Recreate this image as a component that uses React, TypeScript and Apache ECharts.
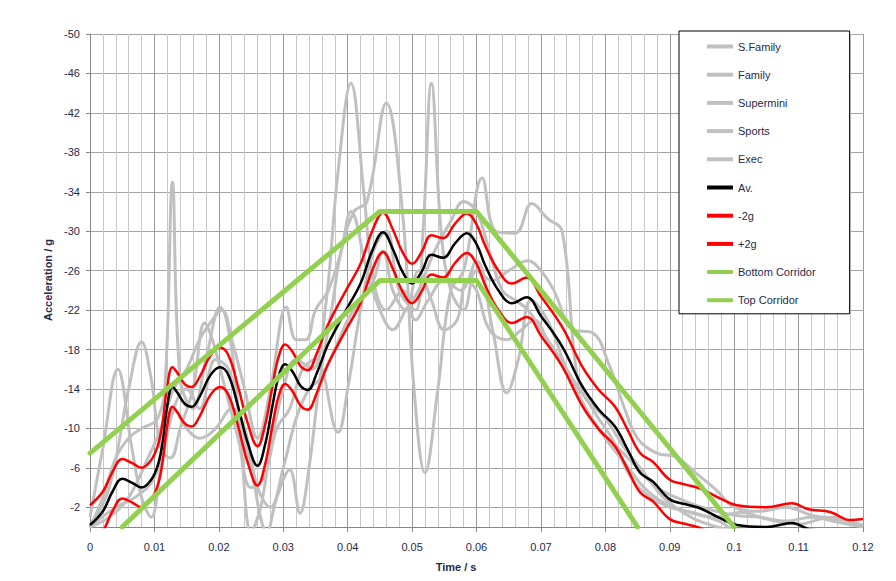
import React, { useEffect, useRef } from "react";
import * as echarts from "echarts";

// ---- data (time in s, acceleration in g) ----
const seriesNames = ["S.Family", "Family", "Supermini", "Sports", "Exec", "Av.", "-2g", "+2g", "Bottom Corridor", "Top Corridor"];

const yTickValues = [-50, -46, -42, -38, -34, -30, -26, -22, -18, -14, -10, -6, -2];

const sFamily: number[][] = [
  [0, 0], [0.002, -3], [0.004, -7], [0.006, -9], [0.008, -10], [0.0105, -11], [0.0117, -15], [0.0128, -35],
  [0.014, -15], [0.016, -12], [0.018, -17], [0.0202, -22.3], [0.022, -18], [0.0235, -8], [0.025, 0.5],
  [0.0265, -2], [0.028, -8], [0.03, -14], [0.032, -17], [0.0345, -16], [0.0365, -22], [0.0385, -36],
  [0.0405, -45], [0.0425, -34], [0.044, -25], [0.046, -22], [0.0485, -24], [0.0505, -21], [0.0525, -23],
  [0.055, -25], [0.0575, -24], [0.06, -27], [0.0625, -20], [0.0647, -13.6], [0.0665, -17], [0.0685, -23],
  [0.071, -21], [0.074, -16], [0.077, -12], [0.08, -9], [0.083, -6.5], [0.086, -4], [0.089, -2.5],
  [0.093, -1.5], [0.097, -1], [0.101, -1.5], [0.105, -0.8], [0.11, -0.3], [0.115, -1], [0.12, 0],
];

const family: number[][] = [
  [0, -1], [0.002, -8], [0.0043, -16], [0.0065, -8], [0.008, -3], [0.0095, -1], [0.011, -6], [0.013, -12],
  [0.015, -14], [0.017, -12], [0.0195, -17], [0.0215, -16], [0.023, -12], [0.025, -6], [0.0275, 0.5],
  [0.029, -3], [0.031, -5.8], [0.0326, -1.4], [0.034, -6], [0.0357, -15], [0.0375, -22], [0.039, -28],
  [0.041, -32], [0.043, -33], [0.046, -43], [0.0485, -32], [0.0503, -14], [0.052, -5.5], [0.054, -14],
  [0.056, -24], [0.058, -26], [0.0609, -35.4], [0.063, -30], [0.066, -29.8], [0.0686, -32.8], [0.071, -31.3],
  [0.0733, -30], [0.0757, -15], [0.078, -12], [0.081, -9], [0.084, -5], [0.087, -3], [0.09, -2],
  [0.094, -1.4], [0.098, -0.5], [0.1, 0.3], [0.12, 0.5],
];

const supermini: number[][] = [
  [0, 0], [0.003, -4], [0.006, -14], [0.008, -18.8], [0.0095, -15], [0.011, -8], [0.0125, -7], [0.014, -10],
  [0.016, -14], [0.0178, -20.7], [0.019, -19], [0.021, -14], [0.023, -9], [0.025, -4], [0.027, -5],
  [0.029, -10], [0.031, -12], [0.033, -16], [0.035, -17], [0.0385, -9.6], [0.04, -14], [0.042, -22],
  [0.044, -28], [0.046, -30], [0.048, -24], [0.0505, -22], [0.0517, -30], [0.053, -45], [0.0545, -30],
  [0.056, -24], [0.058, -22], [0.06, -26], [0.0625, -25], [0.065, -26], [0.068, -27], [0.07, -26],
  [0.072, -24], [0.075, -20], [0.078, -19.7], [0.0805, -16.6], [0.083, -12], [0.085, -9], [0.088, -7.5],
  [0.091, -7.1], [0.094, -5.5], [0.0973, -3.7], [0.1, -2], [0.104, -1.6], [0.108, -2], [0.112, -1.2],
  [0.116, -0.8], [0.12, -0.2],
];

const sports: number[][] = [
  [0, 0], [0.003, -1], [0.006, -3], [0.009, -7], [0.011, -10], [0.013, -14], [0.015, -16], [0.017, -19],
  [0.019, -21], [0.0205, -22], [0.022, -19], [0.024, -14], [0.026, -9], [0.028, -14], [0.0305, -22.3],
  [0.032, -19], [0.0335, -19], [0.035, -22], [0.037, -24], [0.039, -28], [0.0405, -32], [0.043, -26],
  [0.045, -22], [0.047, -20], [0.049, -22], [0.051, -24], [0.0535, -28], [0.056, -31], [0.058, -33],
  [0.06, -32], [0.062, -28], [0.064, -24], [0.066, -23], [0.068, -22], [0.07, -20], [0.073, -17],
  [0.076, -13], [0.079, -10], [0.082, -8], [0.085, -6], [0.088, -4], [0.091, -3], [0.095, -2], [0.1, -1.2],
  [0.104, -1], [0.108, -0.6], [0.112, -1], [0.116, -0.5], [0.12, 0],
];

const exec: number[][] = [
  [0, 0], [0.004, -2], [0.007, -3], [0.01, -5], [0.0115, -9], [0.013, -12], [0.015, -10], [0.017, -9],
  [0.0195, -10], [0.022, -12], [0.024, -10], [0.026, -4], [0.028, -2], [0.03, -6], [0.032, -11], [0.034, -14],
  [0.0357, -15], [0.038, -18], [0.04, -21], [0.042, -23], [0.044, -25], [0.0455, -28], [0.047, -24],
  [0.049, -22], [0.051, -26], [0.053, -23], [0.055, -20], [0.057, -21], [0.0585, -25], [0.06, -24],
  [0.062, -20], [0.0647, -19], [0.067, -20], [0.069, -21], [0.071, -19], [0.074, -16], [0.077, -13],
  [0.08, -11], [0.083, -8], [0.086, -5.5], [0.089, -3], [0.092, -1.5], [0.095, -0.5], [0.1, 0.3], [0.12, 0.5],
];

const average: number[][] = [
  [0, -0.2], [0.002, -1.6], [0.0035, -3.6], [0.005, -4.9], [0.0065, -4.5], [0.008, -4.0], [0.0095, -4.8],
  [0.0105, -6.2], [0.0112, -8.3], [0.012, -12.3], [0.0128, -14.2], [0.0136, -13.6], [0.0147, -12.5],
  [0.0158, -12.2], [0.017, -13.2], [0.0187, -15.4], [0.0202, -16.2], [0.0215, -15.4], [0.023, -12.2],
  [0.0245, -8.5], [0.026, -6.2], [0.0272, -8.4], [0.0283, -12.2], [0.0293, -15.3], [0.0303, -16.5],
  [0.0315, -15.7], [0.0327, -14.3], [0.0338, -13.9], [0.0352, -15.6], [0.0368, -18.3], [0.0385, -20.5],
  [0.04, -22.3], [0.042, -24.7], [0.0438, -28.0], [0.0455, -29.9], [0.047, -28.2], [0.0485, -25.9],
  [0.05, -24.7], [0.0515, -25.9], [0.053, -27.6], [0.0548, -27.3], [0.0567, -28.8], [0.0585, -29.8],
  [0.06, -28.7], [0.0613, -26.6], [0.0634, -24.0], [0.0655, -22.7], [0.0678, -23.3], [0.07, -21.4],
  [0.0733, -18.3], [0.0764, -14.3], [0.079, -11.9], [0.0815, -10.2], [0.0835, -7.8], [0.0854, -5.5],
  [0.0874, -4.6], [0.09, -2.8], [0.0925, -2.3], [0.0947, -1.9], [0.0978, -0.9], [0.1004, -0.2],
  [0.105, 0.0], [0.109, -0.4], [0.1115, 0.2], [0.115, 0.5], [0.118, 1.3], [0.12, 1.2],
];

const minus2g: number[][] = [
  [0, -2.2], [0.002, -3.6], [0.0035, -5.6], [0.005, -6.9], [0.0065, -6.5], [0.008, -6.0], [0.0095, -6.8],
  [0.0105, -8.2], [0.0112, -10.3], [0.012, -14.3], [0.0128, -16.2], [0.0136, -15.6], [0.0147, -14.5],
  [0.0158, -14.2], [0.017, -15.2], [0.0187, -17.4], [0.0202, -18.2], [0.0215, -17.4], [0.023, -14.2],
  [0.0245, -10.5], [0.026, -8.2], [0.0272, -10.4], [0.0283, -14.2], [0.0293, -17.3], [0.0303, -18.5],
  [0.0315, -17.7], [0.0327, -16.3], [0.0338, -15.9], [0.0352, -17.6], [0.0368, -20.3], [0.0385, -22.5],
  [0.04, -24.3], [0.042, -26.7], [0.0438, -30.0], [0.0455, -31.9], [0.047, -30.2], [0.0485, -27.9],
  [0.05, -26.7], [0.0515, -27.9], [0.053, -29.6], [0.0548, -29.3], [0.0567, -30.8], [0.0585, -31.8],
  [0.06, -30.7], [0.0613, -28.6], [0.0634, -26.0], [0.0655, -24.7], [0.0678, -25.3], [0.07, -23.4],
  [0.0733, -20.3], [0.0764, -16.3], [0.079, -13.9], [0.0815, -12.2], [0.0835, -9.8], [0.0854, -7.5],
  [0.0874, -6.6], [0.09, -4.8], [0.0925, -4.3], [0.0947, -3.9], [0.0978, -2.9], [0.1004, -2.2],
  [0.105, -2.0], [0.109, -2.4], [0.1115, -1.8], [0.115, -1.5], [0.118, -0.7], [0.12, -0.8],
];

const plus2g: number[][] = [
  [0, 1.8], [0.002, 0.4], [0.0035, -1.6], [0.005, -2.9], [0.0065, -2.5], [0.008, -2.0], [0.0095, -2.8],
  [0.0105, -4.2], [0.0112, -6.3], [0.012, -10.3], [0.0128, -12.2], [0.0136, -11.6], [0.0147, -10.5],
  [0.0158, -10.2], [0.017, -11.2], [0.0187, -13.4], [0.0202, -14.2], [0.0215, -13.4], [0.023, -10.2],
  [0.0245, -6.5], [0.026, -4.2], [0.0272, -6.4], [0.0283, -10.2], [0.0293, -13.3], [0.0303, -14.5],
  [0.0315, -13.7], [0.0327, -12.3], [0.0338, -11.9], [0.0352, -13.6], [0.0368, -16.3], [0.0385, -18.5],
  [0.04, -20.3], [0.042, -22.7], [0.0438, -26.0], [0.0455, -27.9], [0.047, -26.2], [0.0485, -23.9],
  [0.05, -22.7], [0.0515, -23.9], [0.053, -25.6], [0.0548, -25.3], [0.0567, -26.8], [0.0585, -27.8],
  [0.06, -26.7], [0.0613, -24.6], [0.0634, -22.0], [0.0655, -20.7], [0.0678, -21.3], [0.07, -19.4],
  [0.0733, -16.3], [0.0764, -12.3], [0.079, -9.9], [0.0815, -8.2], [0.0835, -5.8], [0.0854, -3.5],
  [0.0874, -2.6], [0.09, -0.8], [0.0925, -0.3], [0.0947, 0.1], [0.0978, 1.1], [0.1004, 1.8],
];

const bottomCorridor: number[][] = [[0.005, 0], [0.045, -25], [0.06, -25], [0.085, 0]];
const topCorridor: number[][] = [[0, -7.5], [0.045, -32], [0.06, -32], [0.1, 0]];

// ---- styling ----
const FONT = "Liberation Sans";
const TEXT = "#262a4c";
const GRAY = "#c0c0c0";
const GREEN = "#92d050";

export default function App() {
  const ref = useRef<HTMLDivElement>(null);

  useEffect(() => {
    if (!ref.current) return;
    const chart = echarts.init(ref.current, undefined, { renderer: "svg" });

    const grayData = [sFamily, family, supermini, sports, exec];
    const series: any[] = [];
    grayData.forEach((d, i) => {
      series.push({
        name: seriesNames[i], type: "line", data: d, smooth: 0.4, symbol: "none",
        lineStyle: { color: GRAY, width: 3 }, itemStyle: { color: GRAY },
      });
    });
    series.push({
      name: seriesNames[5], type: "line", data: average, smooth: 0.4, symbol: "none",
      lineStyle: { color: "#000", width: 2.5 }, itemStyle: { color: "#000" },
    });
    series.push({
      name: seriesNames[6], type: "line", data: minus2g, smooth: 0.4, symbol: "none",
      lineStyle: { color: "#ff0000", width: 2.5 }, itemStyle: { color: "#ff0000" },
    });
    series.push({
      name: seriesNames[7], type: "line", data: plus2g, smooth: 0.4, symbol: "none",
      lineStyle: { color: "#ff0000", width: 2.5 }, itemStyle: { color: "#ff0000" },
    });
    series.push({
      name: seriesNames[8], type: "line", data: bottomCorridor, symbol: "none",
      lineStyle: { color: GREEN, width: 5, cap: "round", join: "round" }, itemStyle: { color: GREEN },
    });
    series.push({
      name: seriesNames[9], type: "line", data: topCorridor, symbol: "none",
      lineStyle: { color: GREEN, width: 5, cap: "round", join: "round" }, itemStyle: { color: GREEN },
    });

    const legendData = seriesNames.map((n, i) => ({
      name: n,
      icon: i >= 8 ? "roundRect" : "rect",
      itemStyle: { borderWidth: 0 },
    }));

    chart.setOption({
      animation: false,
      backgroundColor: "#fff",
      textStyle: { fontFamily: FONT },
      grid: { left: 90, right: 33, top: 34, bottom: 54 },
      xAxis: {
        type: "value", min: 0, max: 0.12, interval: 0.01,
        axisLine: { show: true, onZero: false, lineStyle: { color: "#868686", width: 1 } },
        axisTick: { show: true, length: 5, lineStyle: { color: "#868686" } },
        axisLabel: { color: TEXT, fontSize: 11, margin: 14, fontFamily: FONT },
        splitLine: { show: true, lineStyle: { color: "#9a9a9a", width: 1 } },
        minorTick: { show: false, splitNumber: 5 },
        minorSplitLine: { show: true, lineStyle: { color: "#c8c8c8", width: 1 } },
      },
      yAxis: {
        type: "value", min: -50, max: 0, inverse: true,
        axisLine: { show: true, lineStyle: { color: "#868686", width: 1 } },
        axisTick: { show: true, length: 4, customValues: yTickValues, lineStyle: { color: "#868686" } },
        axisLabel: { color: TEXT, fontSize: 11, margin: 10, customValues: yTickValues, fontFamily: FONT },
        splitLine: { show: true, lineStyle: { color: "#a6a6a6", width: 1 } },
      },
      legend: {
        orient: "vertical", left: 679, top: 31,
        padding: [10, 34, 8, 28], itemGap: 17.2, itemWidth: 26, itemHeight: 4,
        backgroundColor: "#fff", borderColor: "#000", borderWidth: 1,
        textStyle: { color: TEXT, fontSize: 11, fontFamily: FONT },
        data: legendData,
      },
      graphic: [
        {
          type: "text", x: 456, y: 567,
          style: { text: "Time / s", fontSize: 11, fontWeight: "bold", fill: TEXT, fontFamily: FONT, align: "center", verticalAlign: "middle" },
        },
        {
          type: "text", x: 48, y: 280, rotation: Math.PI / 2,
          style: { text: "Acceleration / g", fontSize: 11, fontWeight: "bold", fill: TEXT, fontFamily: FONT, align: "center", verticalAlign: "middle" },
        },
      ],
      series,
    });

    return () => chart.dispose();
  }, []);

  return <div ref={ref} style={{ position: "absolute", left: 0, top: 0, width: 896, height: 581 }} />;
}
